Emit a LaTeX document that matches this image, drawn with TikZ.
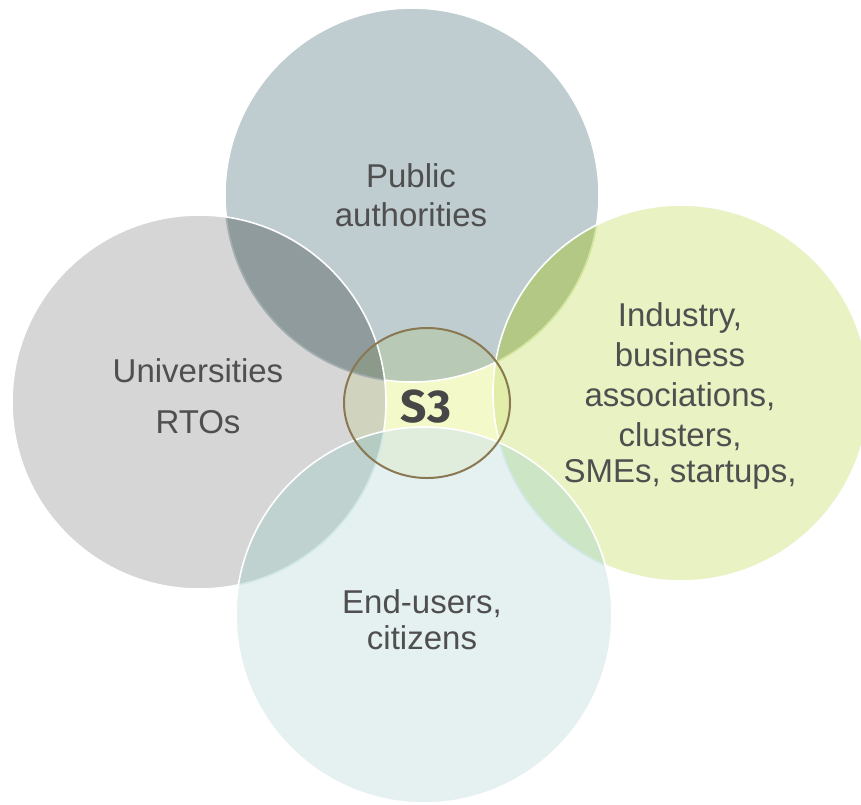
\documentclass[tikz,border=0pt]{standalone}
\usepackage{fontspec}
\setmainfont{Liberation Sans}
\newfontfamily\sthreefont{Fira Sans}
\definecolor{cT}{HTML}{BFCDD1}
\definecolor{cL}{HTML}{D6D6D6}
\definecolor{cR}{HTML}{E8F2C3}
\definecolor{cB}{HTML}{E5F1F1}
\definecolor{cTL}{HTML}{8F9B9D}
\definecolor{cTR}{HTML}{B2C884}
\definecolor{cLB}{HTML}{BFD2D0}
\definecolor{cRB}{HTML}{CCE5C5}
\definecolor{cE}{HTML}{F3F9C8}
\definecolor{cET}{HTML}{B8C9B5}
\definecolor{cEL}{HTML}{D0D4BE}
\definecolor{cER}{HTML}{E1EDA8}
\definecolor{cEB}{HTML}{E0EDDC}
\definecolor{cETL}{HTML}{8B9A8B}
\definecolor{cETR}{HTML}{ADC27C}
\definecolor{cELB}{HTML}{B5CCC2}
\definecolor{cERB}{HTML}{C8E2B8}
\definecolor{edgeTL}{HTML}{A3AEB1}
\definecolor{edgeTR}{HTML}{D3E69C}
\definecolor{edgeB}{HTML}{D0E8E8}
\definecolor{ellcol}{HTML}{8A7852}
\definecolor{textgray}{HTML}{4F4F4F}
\definecolor{sgray}{HTML}{474747}
\begin{document}
\begin{tikzpicture}[x=1pt,y=-1pt,
  txt/.style={text=textgray, font=\fontsize{33}{39}\selectfont, anchor=base, inner sep=0pt},
  whiteline/.style={draw=white, line width=1.6},
  softedge/.style={line width=1.6}]
\useasboundingbox (0,0) rectangle (861,804);
\clip (0,0) rectangle (861,804);
\def\cirT{(412,195) circle[radius=187pt]}
\def\cirL{(199,402) circle[radius=187pt]}
\def\cirR{(681,393) circle[radius=188pt]}
\def\cirB{(424,615) circle[radius=188pt]}
\def\ellE{(427,403) ellipse[x radius=83pt, y radius=75pt]}
\def\pagebox{(-10,-10) rectangle (900,900)}
% base circles
\fill[cT] \cirT;
\fill[cL] \cirL;
\fill[cR] \cirR;
\fill[cB] \cirB;
% pairwise overlaps
\begin{scope}
  \clip \cirT;
  \fill[cTL] \cirL;
  \fill[cTR] \cirR;
\end{scope}
\begin{scope}
  \clip \cirB;
  \fill[cLB] \cirL;
  \fill[cRB] \cirR;
\end{scope}
% centre ellipse
\fill[cE] \ellE;
\begin{scope}
  \clip \ellE;
  \fill[cET] \cirT;
  \fill[cEL] \cirL;
  \fill[cER] \cirR;
  \fill[cEB] \cirB;
  \begin{scope}
    \clip \cirT;
    \fill[cETL] \cirL;
    \fill[cETR] \cirR;
  \end{scope}
  \begin{scope}
    \clip \cirB;
    \fill[cELB] \cirL;
    \fill[cERB] \cirR;
  \end{scope}
\end{scope}
% soft edges
\begin{scope}
  \clip \cirL;
  \draw[softedge, edgeTL] \cirT;
\end{scope}
\begin{scope}
  \clip \cirR;
  \draw[softedge, edgeTR] \cirT;
\end{scope}
\begin{scope}
  \clip \cirB;
  \draw[softedge, edgeB] \cirL;
  \draw[softedge, edgeB] \cirR;
\end{scope}
% white outlines
\draw[whiteline] \cirB;
\begin{scope}[even odd rule]
  \clip \pagebox \cirB;
  \draw[whiteline] \cirL;
  \draw[whiteline] \cirR;
\end{scope}
\begin{scope}[even odd rule]
  \clip \pagebox \cirL;
  \begin{scope}[even odd rule]
    \clip \pagebox \cirR;
    \draw[whiteline] \cirT;
  \end{scope}
\end{scope}
% ellipse outline
\draw[ellcol, line width=2] \ellE;
% labels
\node[txt] (pub1) at (411,187) {Public};
\node[txt] (pub2) at (411,226) {authorities};
\node[txt] (uni1) at (198,382) {Universities};
\node[txt] (uni2) at (198,433) {RTOs};
\node[txt] (ind1) at (680,326) {Industry,};
\node[txt] (ind2) at (680,366) {business};
\node[txt] (ind3) at (680,406) {associations,};
\node[txt] (ind4) at (680,446) {clusters,};
\node[txt] (ind5) at (680,482) {SMEs, startups,};
\node[txt] (end1) at (422,613) {End-users,};
\node[txt] (end2) at (422,649) {citizens};
\node[anchor=base, inner sep=0pt, text=sgray, font=\sthreefont\bfseries\fontsize{46}{50}\selectfont] (s3) at (426,422) {S3};
\end{tikzpicture}
\end{document}
